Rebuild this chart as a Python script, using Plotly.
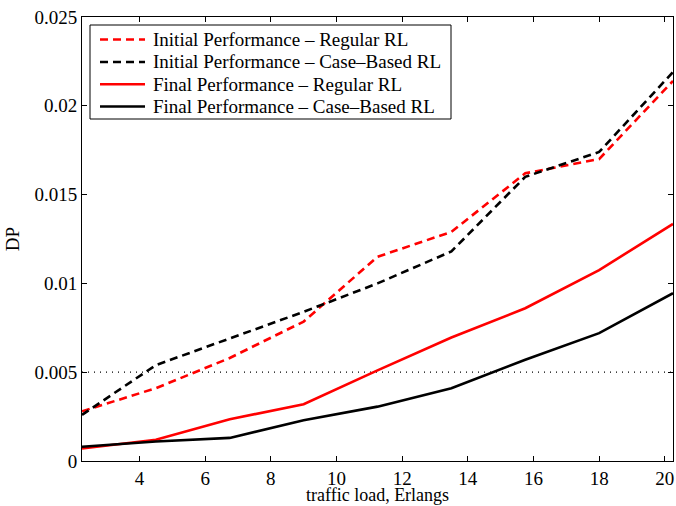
import plotly.graph_objects as go

traffic_load = [2.25, 4.5, 6.75, 9, 11.25, 13.5, 15.75, 18, 20.25]
initial_regular = [0.0028, 0.0041, 0.0058, 0.00785, 0.0115, 0.0129, 0.0162, 0.0170, 0.0214]
initial_case = [0.0026, 0.0054, 0.0069, 0.0084, 0.0100, 0.0118, 0.0160, 0.0174, 0.0219]
final_regular = [0.0007, 0.0012, 0.00235, 0.0032, 0.0051, 0.00695, 0.0086, 0.01075, 0.01335]
final_case = [0.0008, 0.0011, 0.0013, 0.0023, 0.00306, 0.0041, 0.0057, 0.0072, 0.00945]
threshold = 0.005

series_names = [
    "Initial Performance \u2013 Regular RL",
    "Initial Performance \u2013 Case\u2013Based RL",
    "Final Performance \u2013 Regular RL",
    "Final Performance \u2013 Case\u2013Based RL",
]
series_values = [initial_regular, initial_case, final_regular, final_case]
series_colors = ["red", "black", "red", "black"]
series_dash = ["8px,5px", "8px,5px", "solid", "solid"]

W, H = 676, 506
ML, MR, MT, MB = 82, 3, 17, 45
PW, PH = W - ML - MR, H - MT - MB


def px(xp):
    return (xp - ML) / PW


def py(yp):
    return 1 - (yp - MT) / PH


fig = go.Figure()
fig.add_trace(go.Scatter(
    x=[traffic_load[0], traffic_load[-1]], y=[threshold, threshold], mode="lines",
    line=dict(color="black", width=1.2, dash="1px,5px"), showlegend=False, hoverinfo="skip"))
for name, vals, color, dash in zip(series_names, series_values, series_colors, series_dash):
    fig.add_trace(go.Scatter(x=traffic_load, y=vals, mode="lines", name=name, showlegend=False,
                             line=dict(color=color, width=2.6, dash=dash)))

font = dict(family="Times New Roman", size=19, color="black")
title_font = dict(family="Times New Roman", size=18, color="black")

# legend box (drawn manually to mimic MATLAB legend layout)
shapes = [dict(type="rect", xref="paper", yref="paper", x0=px(90), x1=px(451), y0=py(119), y1=py(25),
               line=dict(color="black", width=1), fillcolor="white", layer="above")]
annotations = []
row_y = [39.5, 62, 84.3, 106.5]
for name, color, dash, ry in zip(series_names, series_colors, series_dash, row_y):
    shapes.append(dict(type="line", xref="paper", yref="paper", x0=px(100), x1=px(145),
                       y0=py(ry), y1=py(ry), line=dict(color=color, width=2.6, dash=dash), layer="above"))
    annotations.append(dict(xref="paper", yref="paper", x=px(151), y=py(ry), text=name,
                            showarrow=False, xanchor="left", yanchor="middle", font=font))
# x-axis title placed like the MATLAB label, kept inside the page
annotations.append(dict(xref="paper", yref="paper", x=0.5, y=py(H), text="traffic load, Erlangs",
                        showarrow=False, xanchor="center", yanchor="bottom", font=title_font, borderpad=0))

axis_common = dict(showline=True, linecolor="black", linewidth=1, mirror="ticks",
                   ticks="inside", ticklen=5, tickcolor="black", showgrid=False,
                   zeroline=False, tickfont=font, automargin=False)
fig.update_layout(
    width=W, height=H,
    margin=dict(l=ML, r=MR, t=MT, b=MB),
    paper_bgcolor="white", plot_bgcolor="white",
    font=font, showlegend=False,
    shapes=shapes, annotations=annotations,
    xaxis=dict(range=[2.25, 20.25], tickvals=[4, 6, 8, 10, 12, 14, 16, 18, 20], **axis_common),
    yaxis=dict(range=[0, 0.025], tickvals=[0, 0.005, 0.01, 0.015, 0.02, 0.025],
               ticktext=["0", "0.005", "0.01", "0.015", "0.02", "0.025"],
               title=dict(text="DP", font=font, standoff=9), **axis_common),
)
fig.write_html("out.html")
